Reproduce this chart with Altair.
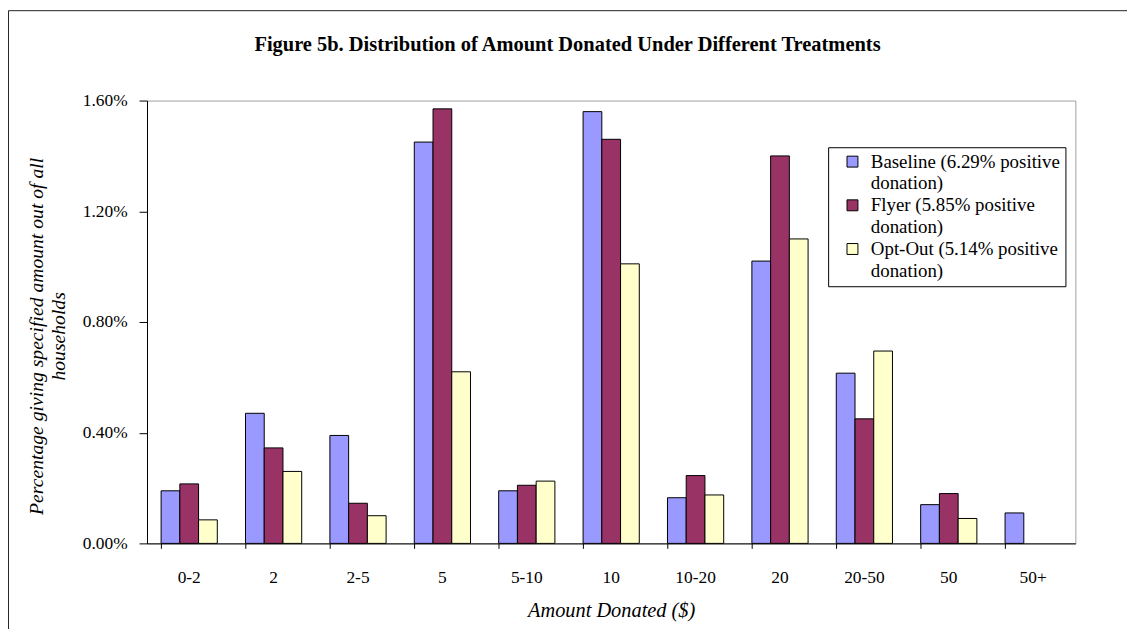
import altair as alt
import pandas as pd

categories = ["0-2", "2", "2-5", "5", "5-10", "10", "10-20", "20", "20-50", "50", "50+"]
series = ["Baseline (6.29% positive donation)",
          "Flyer (5.85% positive donation)",
          "Opt-Out (5.14% positive donation)"]
colors = ["#9999FF", "#993366", "#FFFFCC"]
baseline = [0.19, 0.47, 0.39, 1.45, 0.19, 1.56, 0.165, 1.02, 0.615, 0.14, 0.11]
flyer = [0.215, 0.345, 0.145, 1.57, 0.21, 1.46, 0.245, 1.40, 0.45, 0.18, 0.0]
optout = [0.085, 0.26, 0.10, 0.62, 0.225, 1.01, 0.175, 1.10, 0.695, 0.09, 0.0]
y_ticks = [0.0, 0.004, 0.008, 0.012, 0.016]

rows = []
for s, vals in zip(series, [baseline, flyer, optout]):
    for c, v in zip(categories, vals):
        rows.append({"cat": c, "series": s, "value": v / 100.0})
df = pd.DataFrame(rows)

FONT = "Liberation Serif"

bars = alt.Chart(df).transform_filter("datum.value > 0").mark_bar(
    stroke="black", strokeWidth=1
).encode(
    x=alt.X("cat:N", sort=categories,
            scale=alt.Scale(paddingInner=0.334, paddingOuter=0.167),
            axis=alt.Axis(title="Amount Donated ($)", labelAngle=0, bandPosition=0,
                          domainColor="black", tickColor="black", tickSize=5,
                          labelPadding=20, labelFontSize=17.5, labelFont=FONT,
                          labelColor="black",
                          titleFont=FONT, titleFontSize=20.5, titleFontStyle="italic",
                          titleFontWeight="normal", titleColor="black",
                          titleY=68, titleBaseline="middle")),
    xOffset=alt.XOffset("series:N", sort=series,
                        scale=alt.Scale(domain=series, paddingInner=0, paddingOuter=0)),
    y=alt.Y("value:Q", scale=alt.Scale(domain=[0, 0.016], nice=False),
            axis=alt.Axis(values=y_ticks, format=".2%", grid=False,
                          domainColor="black", tickColor="black", tickSize=8,
                          labelPadding=12, labelFontSize=17.5, labelFont=FONT,
                          labelColor="black",
                          title=["Percentage giving specified amount out of all", "households"],
                          titleFont=FONT, titleFontSize=19.8, titleFontStyle="italic",
                          titleFontWeight="normal", titleColor="black",
                          titleX=-111, titleY=237, titleBaseline="middle",
                          titleAlign="center", titleAngle=-90, titleLineHeight=22)),
    fill=alt.Fill("series:N", sort=series,
                  scale=alt.Scale(domain=series, range=colors),
                  legend=alt.Legend(title=None, orient="none", legendX=686, legendY=47,
                                    symbolType="square", symbolSize=121,
                                    symbolStrokeColor="black", symbolStrokeWidth=1,
                                    symbolOffset=10, labelOffset=9,
                                    labelFont=FONT, labelFontSize=19, labelColor="black",
                                    labelLimit=400, labelBaseline="middle",
                                    labelExpr="[slice(datum.label, 0, indexof(datum.label, ' donation')), 'donation)']",
                                    strokeColor="black", fillColor="white",
                                    padding=5, rowPadding=2)),
)

frame_data = alt.Data(values=[{"k": 1}])
frame_left = alt.Chart(frame_data).mark_rule(color="#222222", strokeWidth=1).encode(
    x=alt.value(-139.5), y=alt.value(-90.5), y2=alt.value(540))
frame_top = alt.Chart(frame_data).mark_rule(color="#222222", strokeWidth=1).encode(
    x=alt.value(-139.5), x2=alt.value(990), y=alt.value(-90.5))

chart = alt.layer(bars, frame_left, frame_top).properties(
    width=935, height=446,
    title=alt.TitleParams("Figure 5b. Distribution of Amount Donated Under Different Treatments",
                          font=FONT, fontSize=20.6, fontWeight="bold", color="black",
                          anchor="middle", dx=-44, offset=0, baseline="alphabetic", dy=62),
    autosize=alt.AutoSizeParams(type="none"),
    padding={"left": 140, "top": 91, "right": 52, "bottom": 84},
).configure(
    font=FONT,
    style={"guide-label": {"lineHeight": 22, "font": FONT},
           "guide-title": {"font": FONT}},
    view=alt.ViewConfig(stroke="#a0a0a0", strokeWidth=1),
    axis=alt.AxisConfig(labelFont=FONT, titleFont=FONT),
    legend=alt.LegendConfig(labelFont=FONT),
    title=alt.TitleConfig(font=FONT),
)

chart.save("out.html", embed_options={"renderer": "svg", "actions": False})
